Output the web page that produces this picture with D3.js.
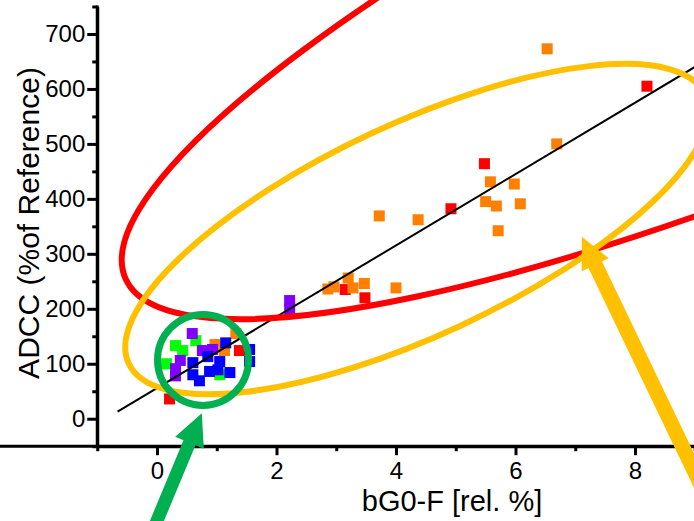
<!DOCTYPE html>
<html><head><meta charset="utf-8">
<script src="https://cdn.jsdelivr.net/npm/d3@7"></script>
<style>html,body{margin:0;padding:0;background:#fff;} svg{display:block;}</style>
</head><body><svg id="c" width="694" height="521"></svg>
<script>
// ---- data ----
const xTicks = [0, 2, 4, 6, 8];
const xMinor = [-1, 1, 3, 5, 7, 9];
const yTicks = [0, 100, 200, 300, 400, 500, 600, 700];
const yMinor = [-50, 50, 150, 250, 350, 450, 550, 650, 750];
const xTitle = "bG0-F [rel. %]";
const yTitle = "ADCC (%of Reference)";

const redPts = [[8.20,605],[5.48,464],[4.92,382],[3.15,235],[3.48,220],[1.38,124],[0.21,36]];
const orangePts = [[6.53,673],[6.69,500],[5.58,431],[5.98,427],[5.50,395],[5.68,387],[6.08,391],[5.71,342],
  [4.37,362],[3.72,369],[2.86,236],[2.96,240],[3.20,256],[3.28,238],[3.47,246],[4.00,238],
  [0.97,135],[1.13,124],[1.32,155]];
const greenPts = [[0.65,142],[0.31,133],[0.43,124],[0.16,100],[1.05,80]];
const purplePts = [[0.59,155],[0.76,124],[0.93,126],[0.39,106],[0.31,91],[0.31,78],[2.22,215],[2.22,200]];
const bluePts = [[1.15,138],[1.55,126],[1.55,104],[0.60,102],[0.85,113],[1.05,104],[0.60,80],[0.71,69],
  [0.88,86],[1.02,89],[1.22,84]];

const fitSlope = 64.9, fitIntercept = 55.7;
const fitXRange = [-0.66, 9.4];

// ---- layout ----
const svg = d3.select("#c");
const font = "'Liberation Sans', Arial, sans-serif";
const x = d3.scaleLinear().domain([-1, 9]).range([97.25, 694.75]);
const y = d3.scaleLinear().domain([-50, 750]).range([446.2, 6.5]);

const series = [
  {pts: redPts, color: "#ff0000"},
  {pts: orangePts, color: "#ff8000"},
  {pts: greenPts, color: "#00ff00"},
  {pts: purplePts, color: "#8000ff"},
  {pts: bluePts, color: "#0000ff"}
];
const ms = 11;
series.forEach(s => {
  svg.append("g").selectAll("rect").data(s.pts).join("rect")
    .attr("x", d => x(d[0]) - ms/2).attr("y", d => y(d[1]) - ms/2)
    .attr("width", ms).attr("height", ms).attr("fill", s.color);
});

// regression line
svg.append("line")
  .attr("x1", x(fitXRange[0])).attr("y1", y(fitIntercept + fitSlope*fitXRange[0]))
  .attr("x2", x(fitXRange[1])).attr("y2", y(fitIntercept + fitSlope*fitXRange[1]))
  .attr("stroke", "#000").attr("stroke-width", 2);

// axes
const yAxis = svg.append("g").attr("transform", `translate(${x(-1)},0)`)
  .call(d3.axisLeft(y).tickValues(yTicks).tickSize(10).tickSizeOuter(0).tickPadding(2).tickFormat(d3.format("d")));
const yAxisMinor = svg.append("g").attr("transform", `translate(${x(-1)},0)`)
  .call(d3.axisLeft(y).tickValues(yMinor).tickSize(5).tickSizeOuter(0).tickFormat(""));
const xAxis = svg.append("g").attr("transform", `translate(0,${y(-50)})`)
  .call(d3.axisBottom(x).tickValues(xTicks).tickSize(9).tickSizeOuter(0).tickPadding(7).tickFormat(d3.format("d")));
const xAxisMinor = svg.append("g").attr("transform", `translate(0,${y(-50)})`)
  .call(d3.axisBottom(x).tickValues(xMinor).tickSize(5).tickSizeOuter(0).tickFormat(""));
[yAxis, yAxisMinor, xAxis, xAxisMinor].forEach(g => {
  g.selectAll("path.domain").attr("stroke", "#000").attr("stroke-width", 3);
  g.selectAll(".tick line").attr("stroke", "#000").attr("stroke-width", 3);
  g.selectAll("text").attr("font-family", font).attr("font-size", 24).attr("fill", "#000");
});
yAxis.select("path.domain").attr("d", `M0,${y(750)-1}V${y(-50)+1.5}`);
xAxis.select("path.domain").attr("d", `M-1.5,0H${700}`);

// axis titles
svg.append("text").attr("x", 452).attr("y", 511).attr("text-anchor", "middle")
  .attr("font-family", font).attr("font-size", 29).text(xTitle);
svg.append("text").attr("transform", `translate(39,223) rotate(-90)`).attr("text-anchor", "middle")
  .attr("font-family", font).attr("font-size", 30).text(yTitle);

// annotations (centers in data units, sizes in px)
function ellipse(cxD, cyD, rx, ry, ang, color, w) {
  const cx = x(cxD), cy = y(cyD);
  svg.append("ellipse").attr("cx", cx).attr("cy", cy).attr("rx", rx).attr("ry", ry)
    .attr("transform", `rotate(${-ang},${cx},${cy})`)
    .attr("fill", "none").attr("stroke", color).attr("stroke-width", w);
}
ellipse(12.8, 909, 873.7, 191.5, 24.33, "#ff0000", 6);
ellipse(4.35, 345, 318, 106, 25, "#ffc000", 6);

svg.append("circle").attr("cx", x(0.77)).attr("cy", y(107)).attr("r", 45.5)
  .attr("fill", "none").attr("stroke", "#00b050").attr("stroke-width", 7);

function arrow(tipXD, tipYD, dir, len, sw, hl, hw, color) {
  const tx = x(tipXD), ty = y(tipYD);
  const n = Math.hypot(dir[0], dir[1]);
  const ux = dir[0]/n, uy = dir[1]/n, nx = -uy, ny = ux;
  const bx = tx - ux*hl, by = ty - uy*hl;
  const ax = tx - ux*len, ay = ty - uy*len;
  const p = [
    [ax + nx*sw/2, ay + ny*sw/2], [bx + nx*sw/2, by + ny*sw/2], [bx + nx*hw/2, by + ny*hw/2],
    [tx, ty], [bx - nx*hw/2, by - ny*hw/2], [bx - nx*sw/2, by - ny*sw/2], [ax - nx*sw/2, ay - ny*sw/2]
  ];
  svg.append("polygon").attr("points", p.map(q => q.join(",")).join(" ")).attr("fill", color);
}
arrow(0.75, 10, [0.385, -0.923], 150, 13, 32, 31, "#00b050");
arrow(7.11, 331, [-0.433, -0.902], 340, 15, 31, 30, "#ffc000");
</script></body></html>
